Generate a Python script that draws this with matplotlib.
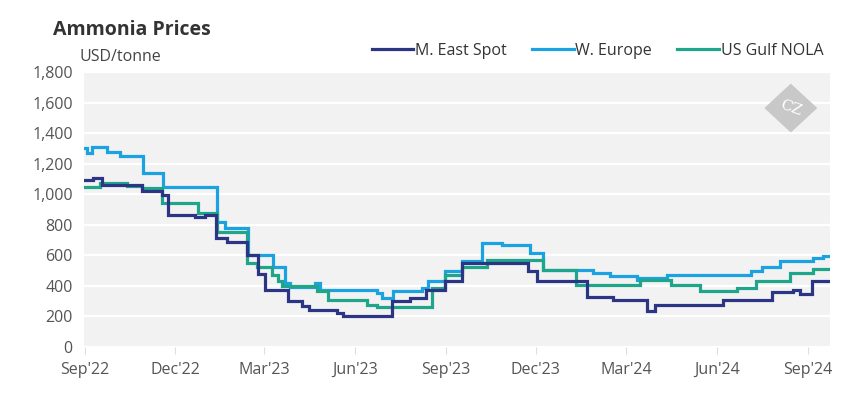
import matplotlib.pyplot as plt
import pandas as pd
from matplotlib.patches import Polygon

plt.rcParams['font.family'] = ['Open Sans', 'DejaVu Sans']

# weekly assessments, only the dates where the price changes (step chart)
me_dates = ["2022-08-31", "2022-09-09", "2022-09-18", "2022-10-29", "2022-11-18", "2022-11-24",
            "2022-12-21", "2022-12-31", "2023-01-12", "2023-01-23", "2023-02-12", "2023-02-23",
            "2023-03-02", "2023-03-25", "2023-04-08", "2023-04-16", "2023-05-14", "2023-05-20",
            "2023-07-08", "2023-07-27", "2023-08-12", "2023-08-31", "2023-09-17",
            "2023-11-23", "2023-12-02", "2024-01-22", "2024-02-17", "2024-03-22", "2024-03-30",
            "2024-06-07", "2024-07-27", "2024-08-17", "2024-08-24", "2024-09-05", "2024-09-23"]
me_prices = [1093, 1108, 1061, 1021, 997, 865,
             850, 865, 713, 690, 604, 480,
             375, 299, 266, 245, 223, 206,
             299, 321, 375, 430, 549,
             495, 430, 330, 310, 234, 277,
             310, 358, 371, 349, 434, 434]

we_dates = ["2022-08-31", "2022-09-03", "2022-09-08", "2022-09-23", "2022-10-06", "2022-10-30",
            "2022-11-19", "2023-01-13", "2023-01-21", "2023-02-13", "2023-03-10", "2023-03-22",
            "2023-03-27", "2023-04-22", "2023-04-27", "2023-06-23", "2023-06-28", "2023-07-09",
            "2023-08-08", "2023-08-14", "2023-08-31", "2023-09-17", "2023-10-07", "2023-10-28",
            "2023-11-25", "2023-12-08", "2024-01-28", "2024-02-14", "2024-03-12", "2024-03-15",
            "2024-04-12", "2024-07-06", "2024-07-17", "2024-08-04", "2024-09-06", "2024-09-16",
            "2024-09-23"]
we_prices = [1300, 1268, 1311, 1278, 1250, 1137,
             1050, 821, 778, 604, 527, 419,
             390, 419, 375, 354, 321, 364,
             386, 430, 495, 560, 684, 669,
             614, 506, 484, 462, 440, 452,
             473, 495, 527, 560, 582, 593,
             593]

us_dates = ["2022-08-31", "2022-09-16", "2022-10-13", "2022-10-29", "2022-11-18", "2022-12-24",
            "2023-01-13", "2023-02-12", "2023-02-22", "2023-03-09", "2023-03-15", "2023-03-19",
            "2023-04-24", "2023-05-05", "2023-06-13", "2023-06-23", "2023-08-18", "2023-08-31",
            "2023-09-17", "2023-10-13", "2023-12-08", "2024-01-11", "2024-03-15", "2024-04-16",
            "2024-05-15", "2024-06-21", "2024-07-11", "2024-08-14", "2024-09-06", "2024-09-23"]
us_prices = [1050, 1072, 1054, 1039, 940, 876,
             750, 551, 527, 473, 430, 397,
             364, 310, 277, 262, 386, 473,
             527, 571, 506, 408, 440, 408,
             364, 386, 430, 484, 510, 510]

series_names = ["M. East Spot", "W. Europe", "US Gulf NOLA"]
series_colors = ["#2B3584", "#1AA3E0", "#1FA58A"]

tick_dates = ["2022-09-01", "2022-12-01", "2023-03-01", "2023-06-01", "2023-09-01",
              "2023-12-01", "2024-03-01", "2024-06-01", "2024-09-01"]
tick_labels = ["Sep'22", "Dec'22", "Mar'23", "Jun'23", "Sep'23",
               "Dec'23", "Mar'24", "Jun'24", "Sep'24"]
y_ticks = [0, 200, 400, 600, 800, 1000, 1200, 1400, 1600, 1800]

fig = plt.figure(figsize=(8.57, 3.98), dpi=100)
ax = fig.add_axes([0.098, 0.128, 0.870, 0.691])
ax.set_facecolor("#F2F2F2")

data = [(me_dates, me_prices), (we_dates, we_prices), (us_dates, us_prices)]
order = [1, 2, 0]  # navy on top
handles = [None] * 3
for i in order:
    d, p = data[i]
    line, = ax.plot(pd.to_datetime(d), p, drawstyle="steps-post", color=series_colors[i],
                    lw=2.3, label=series_names[i], solid_joinstyle="miter", zorder=3)
    handles[i] = line

ax.set_ylim(0, 1800)
ax.set_xlim(pd.Timestamp("2022-08-31"), pd.Timestamp("2024-09-23"))
ax.set_yticks(y_ticks)
ax.set_yticklabels([f"{v:,}" for v in y_ticks])
ax.set_xticks(pd.to_datetime(tick_dates))
ax.set_xticklabels(tick_labels)

ax.grid(axis="y", color="white", lw=1.6)
ax.set_axisbelow(True)
for s in ax.spines.values():
    s.set_visible(False)
ax.tick_params(axis="y", length=0, pad=8, labelsize=11.5, labelcolor="#555555")
ax.tick_params(axis="x", length=5, color="#DDDDDD", pad=6, labelsize=11.5, labelcolor="#555555")

fig.text(0.062, 0.925, "Ammonia Prices", fontsize=14, fontweight="bold", color="#333333",
         va="center", ha="left")
fig.text(0.093, 0.857, "USD/tonne", fontsize=11.5, color="#444444", va="center", ha="left")

leg = fig.legend(handles=handles, loc="center right", bbox_to_anchor=(0.968, 0.872), ncol=3,
                 frameon=False, fontsize=11.5, handlelength=2.6, handletextpad=0.1,
                 columnspacing=1.6, borderaxespad=0)
for t in leg.get_texts():
    t.set_color("#333333")

# watermark logo (diamond), in axes fractions
cx, cy, hw, hh = 0.948, 0.869, 0.0355, 0.089
ax.add_patch(Polygon([(cx - hw, cy), (cx, cy + hh), (cx + hw, cy), (cx, cy - hh)],
                     closed=True, transform=ax.transAxes, facecolor="#C8C8C8",
                     edgecolor="none", zorder=1))
ax.text(cx, cy, "CZ", transform=ax.transAxes, ha="center", va="center", color="white",
        fontsize=11, family="DejaVu Serif", rotation=-20, zorder=2)

fig.savefig("out.png", dpi=100)
